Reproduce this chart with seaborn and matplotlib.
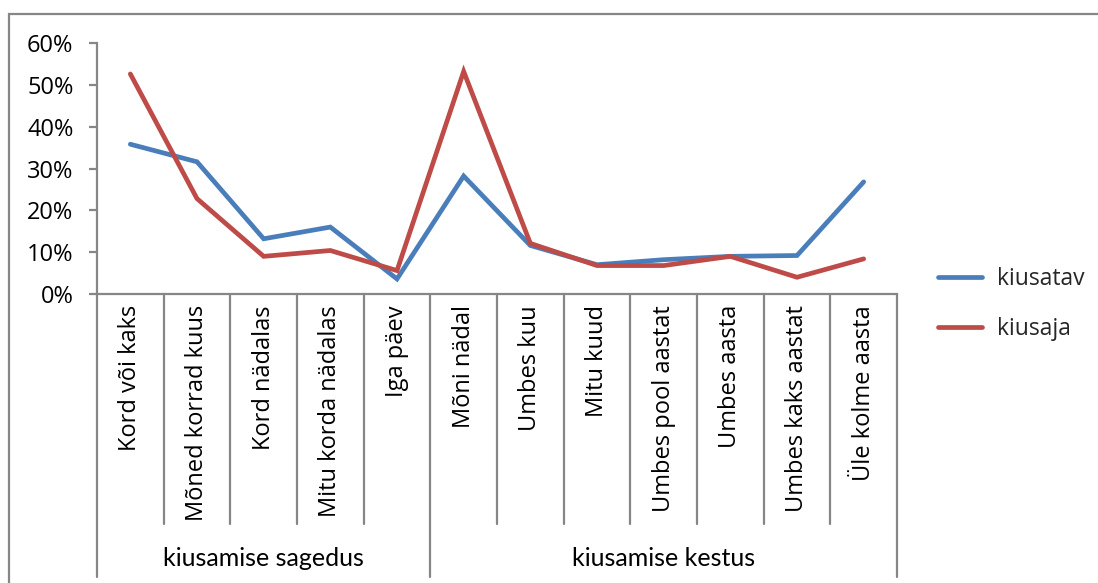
import numpy as np
import pandas as pd
import matplotlib
matplotlib.use("Agg")
import matplotlib.pyplot as plt
import matplotlib.transforms as mtransforms
from matplotlib.patches import Rectangle
import seaborn as sns

categories = ["Kord või kaks", "Mõned korrad kuus", "Kord nädalas", "Mitu korda nädalas",
              "Iga päev", "Mõni nädal", "Umbes kuu", "Mitu kuud", "Umbes pool aastat",
              "Umbes aasta", "Umbes kaks aastat", "Üle kolme aasta"]
groups = ["kiusamise sagedus", "kiusamise kestus"]
group_sizes = [5, 7]
kiusatav = [0.358, 0.316, 0.132, 0.160, 0.036, 0.282, 0.116, 0.070, 0.082, 0.090, 0.092, 0.268]
kiusaja = [0.526, 0.228, 0.090, 0.104, 0.056, 0.532, 0.121, 0.068, 0.068, 0.090, 0.040, 0.084]
series_names = ["kiusatav", "kiusaja"]
yticks = [0.0, 0.1, 0.2, 0.3, 0.4, 0.5, 0.6]

sns.set_style("white")
plt.rcParams["font.family"] = ["Open Sans", "DejaVu Sans"]

W, H = 1098, 583
fig = plt.figure(figsize=(W / 100, H / 100), dpi=100)
ax = fig.add_axes([97 / W, 1 - 294 / H, 800 / W, 251 / H])

pos = np.arange(len(categories))
df = pd.DataFrame({
    "pos": np.concatenate([pos, pos]),
    "value": kiusatav + kiusaja,
    "series": [series_names[0]] * len(pos) + [series_names[1]] * len(pos),
})
palette = {"kiusatav": "#4A7EBB", "kiusaja": "#BE4B48"}
sns.lineplot(data=df, x="pos", y="value", hue="series", palette=palette,
             linewidth=3.4, ax=ax, legend=False, solid_capstyle="round",
             solid_joinstyle="miter")

grey = "#868686"
ax.set_xlim(-0.5, len(categories) - 0.5)
ax.set_ylim(0, 0.6)
ax.set_yticks(yticks)
ax.set_yticklabels([f"{int(round(v * 100))}%" for v in yticks])
ax.set_xticks(pos)
ax.set_xticklabels(categories, rotation=90, va="top", ha="center")
ax.set_xlabel("")
ax.set_ylabel("")
for s in ["top", "right"]:
    ax.spines[s].set_visible(False)
for s in ["left", "bottom"]:
    ax.spines[s].set_color(grey)
    ax.spines[s].set_linewidth(1.6)
ax.tick_params(axis="y", direction="out", length=6, width=1.6, color=grey,
               pad=11, labelsize=17, labelcolor="#000000", left=True)
ax.tick_params(axis="x", length=0, pad=8, labelsize=17, labelcolor="#000000")
ax.grid(False)

trans = mtransforms.blended_transform_factory(ax.transData, ax.transAxes)
inner_bottom = -(524 - 294) / 251
outer_bottom = -(577 - 294) / 251
bounds = np.arange(len(categories) + 1) - 0.5
group_edges = np.concatenate([[0], np.cumsum(group_sizes)]) - 0.5
for b in bounds:
    yb = outer_bottom if b in group_edges else inner_bottom
    ax.plot([b, b], [0, yb], color=grey, lw=1.6, transform=trans, clip_on=False)
for g, a, b in zip(groups, group_edges[:-1], group_edges[1:]):
    ax.text((a + b) / 2, -(559 - 294) / 251, g, transform=trans, ha="center",
            va="center", fontsize=18, color="#000000", family=["Lato", "DejaVu Sans"])

handles = [plt.Line2D([], [], color=palette[n], lw=3.4, solid_capstyle="round") for n in series_names]
fig.legend(handles, series_names, loc="center left", bbox_to_anchor=(917 / W, 1 - 304 / H),
           frameon=False, fontsize=16.5, handlelength=1.95, handletextpad=0.65,
           labelspacing=1.1)

fig.add_artist(Rectangle((9 / W, -0.01), 1.2, 1 - 13.5 / H + 0.01, transform=fig.transFigure,
                         fill=False, edgecolor=grey, lw=1.6))

fig.savefig("out.png", dpi=100)
